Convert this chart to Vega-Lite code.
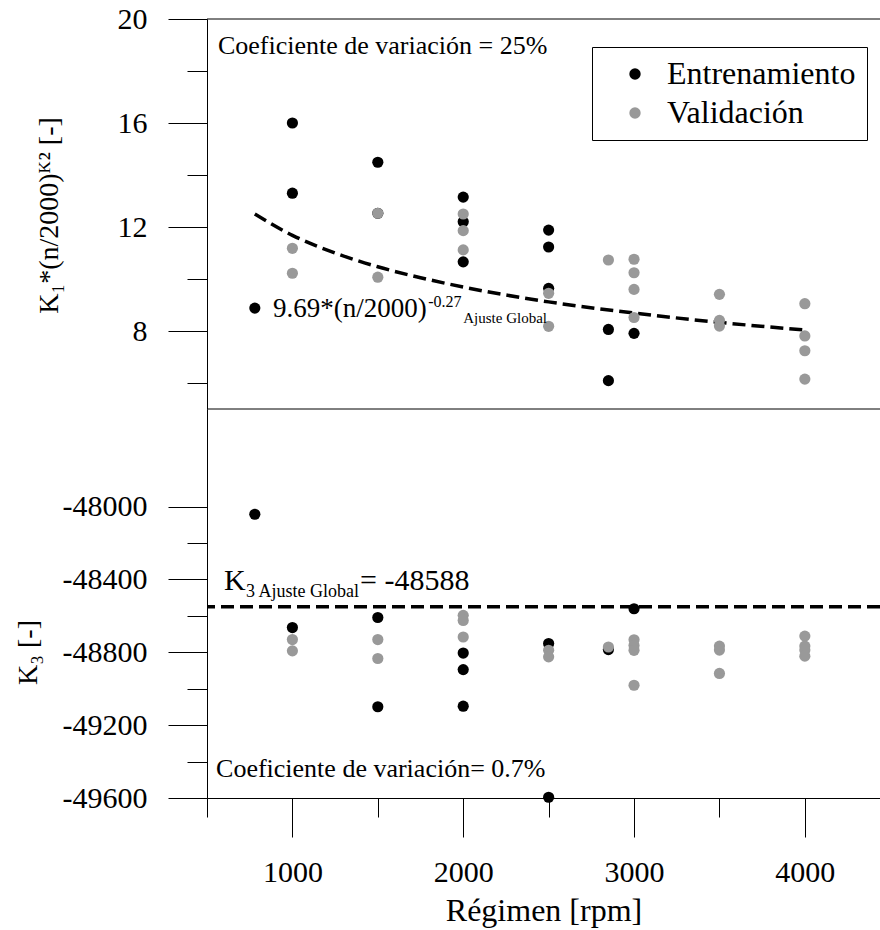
{
  "$schema": "https://vega.github.io/schema/vega-lite/v6.json",
  "width": 673,
  "height": 779,
  "autosize": {"type": "none"},
  "padding": {"left": 207, "top": 19, "right": 0, "bottom": 132},
  "background": "white",
  "config": {
    "view": {"stroke": null},
    "font": "Liberation Serif",
    "axis": {
      "grid": false,
      "domainColor": "#000",
      "domainWidth": 1,
      "tickColor": "#000",
      "tickWidth": 1,
      "labelColor": "#000",
      "titleColor": "#000",
      "labelFont": "Liberation Serif",
      "titleFont": "Liberation Serif",
      "titleFontWeight": "normal",
      "labelFlush": false,
      "labelOverlap": false
    }
  },
  "datasets": {
    "top": [
      {"rpm": 780, "valor": 8.88, "serie": "Entrenamiento"},
      {"rpm": 1000, "valor": 16.0, "serie": "Entrenamiento"},
      {"rpm": 1000, "valor": 13.3, "serie": "Entrenamiento"},
      {"rpm": 1500, "valor": 14.49, "serie": "Entrenamiento"},
      {"rpm": 1500, "valor": 12.53, "serie": "Entrenamiento"},
      {"rpm": 2000, "valor": 13.15, "serie": "Entrenamiento"},
      {"rpm": 2000, "valor": 12.2, "serie": "Entrenamiento"},
      {"rpm": 2000, "valor": 10.66, "serie": "Entrenamiento"},
      {"rpm": 2500, "valor": 11.88, "serie": "Entrenamiento"},
      {"rpm": 2500, "valor": 11.23, "serie": "Entrenamiento"},
      {"rpm": 2500, "valor": 9.64, "serie": "Entrenamiento"},
      {"rpm": 2850, "valor": 8.06, "serie": "Entrenamiento"},
      {"rpm": 2850, "valor": 6.09, "serie": "Entrenamiento"},
      {"rpm": 3000, "valor": 7.91, "serie": "Entrenamiento"},
      {"rpm": 1000, "valor": 11.18, "serie": "Validación"},
      {"rpm": 1000, "valor": 10.22, "serie": "Validación"},
      {"rpm": 1500, "valor": 12.53, "serie": "Validación"},
      {"rpm": 1500, "valor": 10.07, "serie": "Validación"},
      {"rpm": 2000, "valor": 12.5, "serie": "Validación"},
      {"rpm": 2000, "valor": 11.86, "serie": "Validación"},
      {"rpm": 2000, "valor": 11.12, "serie": "Validación"},
      {"rpm": 2500, "valor": 9.45, "serie": "Validación"},
      {"rpm": 2500, "valor": 8.18, "serie": "Validación"},
      {"rpm": 2850, "valor": 10.73, "serie": "Validación"},
      {"rpm": 3000, "valor": 10.76, "serie": "Validación"},
      {"rpm": 3000, "valor": 10.24, "serie": "Validación"},
      {"rpm": 3000, "valor": 9.6, "serie": "Validación"},
      {"rpm": 3000, "valor": 8.52, "serie": "Validación"},
      {"rpm": 3500, "valor": 9.41, "serie": "Validación"},
      {"rpm": 3500, "valor": 8.41, "serie": "Validación"},
      {"rpm": 3500, "valor": 8.19, "serie": "Validación"},
      {"rpm": 4000, "valor": 9.05, "serie": "Validación"},
      {"rpm": 4000, "valor": 7.81, "serie": "Validación"},
      {"rpm": 4000, "valor": 7.24, "serie": "Validación"},
      {"rpm": 4000, "valor": 6.15, "serie": "Validación"}
    ],
    "bottom": [
      {"rpm": 780, "valor": -48042, "serie": "Entrenamiento"},
      {"rpm": 1000, "valor": -48664, "serie": "Entrenamiento"},
      {"rpm": 1500, "valor": -48609, "serie": "Entrenamiento"},
      {"rpm": 1500, "valor": -49099, "serie": "Entrenamiento"},
      {"rpm": 2000, "valor": -48804, "serie": "Entrenamiento"},
      {"rpm": 2000, "valor": -48895, "serie": "Entrenamiento"},
      {"rpm": 2000, "valor": -49096, "serie": "Entrenamiento"},
      {"rpm": 2500, "valor": -48752, "serie": "Entrenamiento"},
      {"rpm": 2500, "valor": -49596, "serie": "Entrenamiento"},
      {"rpm": 2850, "valor": -48785, "serie": "Entrenamiento"},
      {"rpm": 3000, "valor": -48561, "serie": "Entrenamiento"},
      {"rpm": 1000, "valor": -48730, "serie": "Validación"},
      {"rpm": 1000, "valor": -48792, "serie": "Validación"},
      {"rpm": 1500, "valor": -48730, "serie": "Validación"},
      {"rpm": 1500, "valor": -48834, "serie": "Validación"},
      {"rpm": 2000, "valor": -48597, "serie": "Validación"},
      {"rpm": 2000, "valor": -48625, "serie": "Validación"},
      {"rpm": 2000, "valor": -48716, "serie": "Validación"},
      {"rpm": 2500, "valor": -48789, "serie": "Validación"},
      {"rpm": 2500, "valor": -48825, "serie": "Validación"},
      {"rpm": 2850, "valor": -48771, "serie": "Validación"},
      {"rpm": 3000, "valor": -48731, "serie": "Validación"},
      {"rpm": 3000, "valor": -48762, "serie": "Validación"},
      {"rpm": 3000, "valor": -48789, "serie": "Validación"},
      {"rpm": 3000, "valor": -48981, "serie": "Validación"},
      {"rpm": 3500, "valor": -48766, "serie": "Validación"},
      {"rpm": 3500, "valor": -48788, "serie": "Validación"},
      {"rpm": 3500, "valor": -48916, "serie": "Validación"},
      {"rpm": 4000, "valor": -48711, "serie": "Validación"},
      {"rpm": 4000, "valor": -48766, "serie": "Validación"},
      {"rpm": 4000, "valor": -48788, "serie": "Validación"},
      {"rpm": 4000, "valor": -48821, "serie": "Validación"}
    ],
    "fit": [
      {"rpm": 780, "valor": 12.5},
      {"rpm": 1000, "valor": 11.68},
      {"rpm": 1250, "valor": 11.0},
      {"rpm": 1500, "valor": 10.47},
      {"rpm": 1750, "valor": 10.05},
      {"rpm": 2000, "valor": 9.69},
      {"rpm": 2500, "valor": 9.12},
      {"rpm": 3000, "valor": 8.69},
      {"rpm": 3500, "valor": 8.33},
      {"rpm": 4000, "valor": 8.04}
    ]
  },
  "layer": [
    {
      "data": {"values": [{"valor": 20}, {"valor": 5}]},
      "mark": {"type": "rule", "color": "#000", "strokeWidth": 1},
      "encoding": {
        "y": {"field": "valor", "type": "quantitative", "scale": {"domain": [5, 20], "range": [390, 0], "nice": false, "zero": false}, "axis": null}
      }
    },
    {
      "data": {"values": [{"valor": -48550}]},
      "mark": {"type": "rule", "color": "#000", "strokeWidth": 3.5, "strokeDash": [13, 6]},
      "encoding": {
        "y": {"field": "valor", "type": "quantitative", "scale": {"domain": [-49600, -47464], "range": [779, 390], "nice": false, "zero": false}, "axis": null}
      }
    },
    {
      "data": {"name": "fit"},
      "mark": {"type": "line", "color": "#000", "strokeWidth": 3.5, "strokeDash": [13, 6], "interpolate": "monotone"},
      "encoding": {
        "x": {"field": "rpm", "type": "quantitative", "scale": {"domain": [500, 4440], "nice": false, "zero": false}, "axis": null},
        "y": {"field": "valor", "type": "quantitative", "scale": {"domain": [5, 20], "range": [390, 0], "nice": false, "zero": false}, "axis": null}
      }
    },
    {
      "data": {"name": "top"},
      "mark": {"type": "point", "filled": true, "size": 125, "opacity": 1, "shape": "circle"},
      "encoding": {
        "x": {
          "field": "rpm", "type": "quantitative",
          "scale": {"domain": [500, 4440], "nice": false, "zero": false},
          "title": "Régimen [rpm]",
          "axis": {
            "orient": "bottom",
            "values": [1000, 2000, 3000, 4000],
            "format": "d",
            "tickSize": 39,
            "labelPadding": 20,
            "labelFontSize": 30,
            "titleFontSize": 32,
            "titlePadding": 8
          }
        },
        "y": {
          "field": "valor", "type": "quantitative",
          "scale": {"domain": [5, 20], "range": [390, 0], "nice": false, "zero": false},
          "title": "K₁*(n/2000)ᴷ² [-]",
          "axis": {
            "orient": "left",
            "values": [8, 12, 16, 20],
            "format": "d",
            "tickSize": 39,
            "labelPadding": 21,
            "labelFontSize": 30,
            "titleFontSize": 28,
            "titleAngle": -90,
            "titleX": -144,
            "titleY": 196,
            "titleBaseline": "bottom",
            "titleAlign": "center"
          }
        },
        "color": {
          "field": "serie", "type": "nominal",
          "scale": {"domain": ["Entrenamiento", "Validación"], "range": ["#000000", "#999999"]},
          "legend": {
            "title": null, "orient": "none", "legendX": 385, "legendY": 28,
            "strokeColor": "#000", "fillColor": "#fff", "padding": 11,
            "labelFontSize": 32, "labelFont": "Liberation Serif", "labelColor": "#000",
            "symbolSize": 130, "symbolType": "circle", "symbolStrokeWidth": 0,
            "rowPadding": 7, "labelOffset": 16, "symbolOffset": 16, "labelLimit": 400
          }
        }
      }
    },
    {
      "data": {"name": "bottom"},
      "mark": {"type": "point", "filled": true, "size": 125, "opacity": 1, "shape": "circle"},
      "encoding": {
        "x": {"field": "rpm", "type": "quantitative", "scale": {"domain": [500, 4440], "nice": false, "zero": false}, "axis": null},
        "y": {
          "field": "valor", "type": "quantitative",
          "scale": {"domain": [-49600, -47464], "range": [779, 390], "nice": false, "zero": false},
          "title": "K₃ [-]",
          "axis": {
            "orient": "left",
            "values": [-49600, -49200, -48800, -48400, -48000],
            "labelExpr": "'' + datum.value",
            "tickSize": 39,
            "labelPadding": 21,
            "labelFontSize": 30,
            "titleFontSize": 28,
            "titleAngle": -90,
            "titleX": -165,
            "titleY": 633,
            "titleBaseline": "bottom",
            "titleAlign": "center"
          }
        },
        "color": {
          "field": "serie", "type": "nominal",
          "scale": {"domain": ["Entrenamiento", "Validación"], "range": ["#000000", "#999999"]},
          "legend": {
            "title": null, "orient": "none", "legendX": 385, "legendY": 28,
            "strokeColor": "#000", "fillColor": "#fff", "padding": 11,
            "labelFontSize": 32, "labelFont": "Liberation Serif", "labelColor": "#000",
            "symbolSize": 130, "symbolType": "circle", "symbolStrokeWidth": 0,
            "rowPadding": 7, "labelOffset": 16, "symbolOffset": 16, "labelLimit": 400
          }
        }
      }
    },
    {
      "data": {"values": [{"rpm": 564, "valor": 18.67, "t": "Coeficiente de variación = 25%"}]},
      "mark": {"type": "text", "align": "left", "baseline": "alphabetic", "fontSize": 26, "color": "#000", "font": "Liberation Serif"},
      "encoding": {
        "x": {"field": "rpm", "type": "quantitative", "scale": {"domain": [500, 4440], "nice": false, "zero": false}, "axis": null},
        "y": {"field": "valor", "type": "quantitative", "scale": {"domain": [5, 20], "range": [390, 0], "nice": false, "zero": false}, "axis": null},
        "text": {"field": "t"}
      }
    },
    {
      "data": {"values": [{"rpm": 886, "valor": 8.54, "t": "9.69*(n/2000)"}]},
      "mark": {"type": "text", "align": "left", "baseline": "alphabetic", "fontSize": 27, "color": "#000", "font": "Liberation Serif"},
      "encoding": {
        "x": {"field": "rpm", "type": "quantitative", "scale": {"domain": [500, 4440], "nice": false, "zero": false}, "axis": null},
        "y": {"field": "valor", "type": "quantitative", "scale": {"domain": [5, 20], "range": [390, 0], "nice": false, "zero": false}, "axis": null},
        "text": {"field": "t"}
      }
    },
    {
      "data": {"values": [{"rpm": 1795, "valor": 8.92, "t": "-0.27"}]},
      "mark": {"type": "text", "align": "left", "baseline": "alphabetic", "fontSize": 16, "color": "#000", "font": "Liberation Serif"},
      "encoding": {
        "x": {"field": "rpm", "type": "quantitative", "scale": {"domain": [500, 4440], "nice": false, "zero": false}, "axis": null},
        "y": {"field": "valor", "type": "quantitative", "scale": {"domain": [5, 20], "range": [390, 0], "nice": false, "zero": false}, "axis": null},
        "text": {"field": "t"}
      }
    },
    {
      "data": {"values": [{"rpm": 2000, "valor": 8.31, "t": "Ajuste Global"}]},
      "mark": {"type": "text", "align": "left", "baseline": "alphabetic", "fontSize": 15, "color": "#000", "font": "Liberation Serif"},
      "encoding": {
        "x": {"field": "rpm", "type": "quantitative", "scale": {"domain": [500, 4440], "nice": false, "zero": false}, "axis": null},
        "y": {"field": "valor", "type": "quantitative", "scale": {"domain": [5, 20], "range": [390, 0], "nice": false, "zero": false}, "axis": null},
        "text": {"field": "t"}
      }
    },
    {
      "data": {"values": [{"rpm": 600, "valor": -48458, "t": "K"}, {"rpm": 1396, "valor": -48458, "t": "= -48588"}]},
      "mark": {"type": "text", "align": "left", "baseline": "alphabetic", "fontSize": 30, "color": "#000", "font": "Liberation Serif"},
      "encoding": {
        "x": {"field": "rpm", "type": "quantitative", "scale": {"domain": [500, 4440], "nice": false, "zero": false}, "axis": null},
        "y": {"field": "valor", "type": "quantitative", "scale": {"domain": [-49600, -47464], "range": [779, 390], "nice": false, "zero": false}, "axis": null},
        "text": {"field": "t"}
      }
    },
    {
      "data": {"values": [{"rpm": 728, "valor": -48496, "t": "3 Ajuste Global"}]},
      "mark": {"type": "text", "align": "left", "baseline": "alphabetic", "fontSize": 18, "color": "#000", "font": "Liberation Serif"},
      "encoding": {
        "x": {"field": "rpm", "type": "quantitative", "scale": {"domain": [500, 4440], "nice": false, "zero": false}, "axis": null},
        "y": {"field": "valor", "type": "quantitative", "scale": {"domain": [-49600, -47464], "range": [779, 390], "nice": false, "zero": false}, "axis": null},
        "text": {"field": "t"}
      }
    },
    {
      "data": {"values": [{"rpm": 553, "valor": -49485, "t": "Coeficiente de variación= 0.7%"}]},
      "mark": {"type": "text", "align": "left", "baseline": "alphabetic", "fontSize": 26, "color": "#000", "font": "Liberation Serif"},
      "encoding": {
        "x": {"field": "rpm", "type": "quantitative", "scale": {"domain": [500, 4440], "nice": false, "zero": false}, "axis": null},
        "y": {"field": "valor", "type": "quantitative", "scale": {"domain": [-49600, -47464], "range": [779, 390], "nice": false, "zero": false}, "axis": null},
        "text": {"field": "t"}
      }
    },
    {
      "data": {"name": "fit"},
      "mark": {"type": "point", "opacity": 0},
      "encoding": {
        "x": {
          "field": "rpm", "type": "quantitative",
          "scale": {"domain": [500, 4440], "nice": false, "zero": false},
          "axis": {"orient": "bottom", "values": [500, 1500, 2500, 3500], "tickSize": 19, "labels": false, "domain": false, "title": null}
        },
        "y": {
          "field": "valor", "type": "quantitative",
          "scale": {"domain": [5, 20], "range": [390, 0], "nice": false, "zero": false},
          "axis": {"orient": "left", "values": [6, 10, 14, 18], "tickSize": 20, "labels": false, "domain": false, "title": null}
        }
      }
    },
    {
      "data": {"name": "bottom"},
      "mark": {"type": "point", "opacity": 0},
      "encoding": {
        "x": {"field": "rpm", "type": "quantitative", "scale": {"domain": [500, 4440], "nice": false, "zero": false}, "axis": null},
        "y": {
          "field": "valor", "type": "quantitative",
          "scale": {"domain": [-49600, -47464], "range": [779, 390], "nice": false, "zero": false},
          "axis": {"orient": "left", "values": [-49400, -49000, -48600, -48200], "tickSize": 20, "labels": false, "domain": false, "title": null}
        }
      }
    }
  ],
  "resolve": {
    "scale": {"y": "independent", "x": "independent"},
    "axis": {"y": "independent", "x": "independent"}
  }
}
